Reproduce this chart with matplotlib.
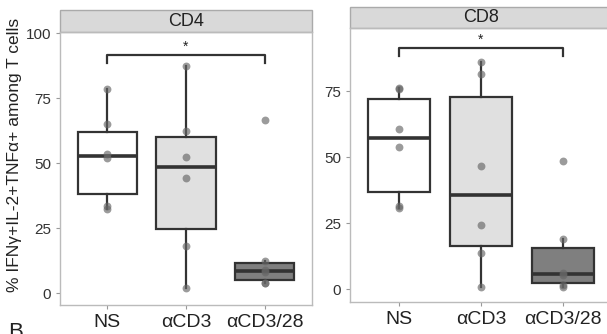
import matplotlib.pyplot as plt
from matplotlib.patches import Rectangle

plt.rcParams['font.family'] = ['Liberation Sans', 'DejaVu Sans']

groups = ['NS', 'αCD3', 'αCD3/28']
box_colors = ['#ffffff', '#e0e0e0', '#7f7f7f']

cd4_ns = [32.3, 33.6, 52.1, 53.6, 65.1, 78.5]
cd4_cd3 = [1.9, 18.3, 44.5, 52.3, 62.6, 87.6]
cd4_cd328 = [3.9, 4.0, 8.1, 8.9, 12.5, 66.5]

cd8_ns = [30.7, 31.4, 53.9, 60.7, 75.9, 76.3]
cd8_cd3 = [1.0, 13.9, 24.3, 46.9, 81.7, 86.1]
cd8_cd328 = [1.0, 1.5, 5.4, 6.0, 19.0, 48.8]

panels = [
    ('CD4', [cd4_ns, cd4_cd3, cd4_cd328], [0, 25, 50, 75, 100], (-4.5, 100.5)),
    ('CD8', [cd8_ns, cd8_cd3, cd8_cd328], [0, 25, 50, 75], (-4.8, 99.0)),
]
# bracket height, tick drop, star height (data units)
bracket = [(91.5, 88.5, 95.0), (91.3, 88.3, 94.5)]

W, H = 607, 334
fig = plt.figure(figsize=(W / 100, H / 100), dpi=100)
axes_px = [(60, 312, 32, 305, 22), (350, 612, 28, 302, 21)]

edge = '#333333'
for (title, data, yticks, ylim), (x0, x1, y0, y1, sh), (yb, yd, ys) in zip(panels, axes_px, bracket):
    ax = fig.add_axes([x0 / W, (H - y1) / H, (x1 - x0) / W, (y1 - y0) / H])
    pos = list(range(len(groups)))
    bp = ax.boxplot(data, positions=pos, widths=0.75, patch_artist=True,
                    showfliers=False, showcaps=False,
                    medianprops=dict(color=edge, lw=2.6),
                    whiskerprops=dict(color=edge, lw=1.6),
                    boxprops=dict(edgecolor=edge, lw=1.6))
    for patch, c in zip(bp['boxes'], box_colors):
        patch.set_facecolor(c)
    for i, vals in enumerate(data):
        ax.scatter([i] * len(vals), vals, s=32, color='#666666', alpha=0.65,
                   lw=0, zorder=5)

    # significance bracket
    ax.plot([0, 0, 2, 2], [yd, yb, yb, yd], color=edge, lw=1.6)
    ax.text(1, ys, '*', ha='center', va='center', fontsize=10, color='#222222')

    ax.set_xlim(-0.6, 2.6)
    ax.set_ylim(*ylim)
    ax.set_xticks(pos)
    ax.set_xticklabels(groups, fontsize=14, color='#222222')
    ax.set_yticks(yticks)
    ax.set_yticklabels([str(t) for t in yticks], fontsize=11, color='#333333')
    ax.tick_params(length=3, color='#999999', width=0.8)
    for s in ax.spines.values():
        s.set_color('#bbbbbb')
        s.set_linewidth(1.0)

    # facet strip
    ax.add_patch(Rectangle((0, 1), 1, sh / (y1 - y0), transform=ax.transAxes,
                           facecolor='#d9d9d9', edgecolor='#aaaaaa', lw=1.0,
                           clip_on=False))
    ax.text(0.5, 1 + sh / (y1 - y0) / 2, title, transform=ax.transAxes,
            ha='center', va='center', fontsize=13, color='#222222')

    if title == 'CD4':
        ax.set_ylabel('% IFNγ+IL-2+TNFα+ among T cells', fontsize=12.5,
                      color='#222222')
        ax.yaxis.set_label_coords(-0.15, 0.55)

fig.text(8 / W, (H - 322) / H, 'B', fontsize=16, ha='left', va='top',
         color='#222222')

fig.savefig('out.png', dpi=100)
